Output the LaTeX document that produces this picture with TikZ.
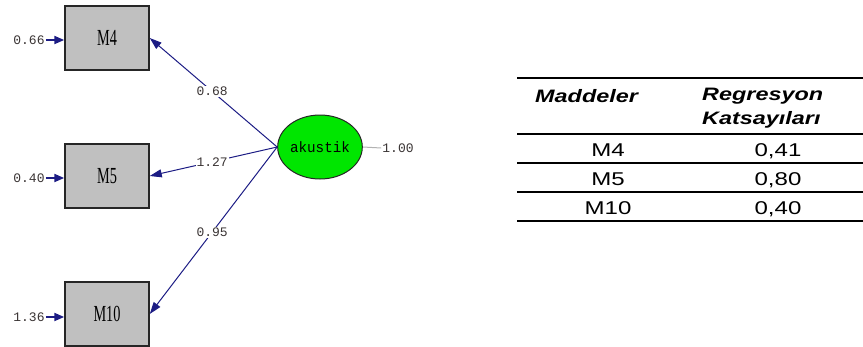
\documentclass[tikz,border=0pt]{standalone}
\usepackage{fontspec}
\usetikzlibrary{arrows.meta,shapes.geometric}
\newfontfamily\tabfont[FakeStretch=1.3]{Liberation Sans}
\newfontfamily\numfont{Liberation Mono}
\newfontfamily\boxfont[FakeStretch=0.62]{Liberation Serif}
\newfontfamily\latfont[FakeStretch=0.95]{Liberation Mono}
\definecolor{pathblue}{HTML}{1C1C84}
\definecolor{boxgray}{HTML}{C0C0C0}
\definecolor{latgreen}{HTML}{00E600}
\definecolor{numtxt}{HTML}{3A3434}
\begin{document}
\begin{tikzpicture}[x=1pt,y=-1pt,
  obs/.style={draw=black!85,line width=1.5pt,fill=boxgray,minimum width=84pt,
    minimum height=64pt,inner sep=0pt,font=\boxfont\fontsize{23}{25}\selectfont},
  lat/.style={ellipse,draw=black!85,line width=1pt,fill=latgreen,minimum width=84pt,
    minimum height=64pt,inner sep=0pt,font=\latfont\fontsize{15}{17}\selectfont},
  lbl/.style={fill=white,inner sep=1pt,text=numtxt,font=\numfont\fontsize{13}{15}\selectfont},
  loading/.style={draw=pathblue,line width=1pt,-{Triangle[length=12pt,width=8pt]}},
  errarrow/.style={draw=pathblue,line width=2pt,-{Triangle[length=10pt,width=8pt]}},
  tabtxt/.style={inner sep=0pt,font=\tabfont\fontsize{18.5}{20}\selectfont},
  tabhead/.style={inner sep=0pt,font=\tabfont\fontsize{18}{20}\selectfont\bfseries\itshape},
  rule/.style={line width=2pt,black}]
\useasboundingbox (0,0) rectangle (863,346);

% observed indicators
\node[obs] (m4) at (107,38) {M4};
\node[obs] (m5) at (107,176) {M5};
\node[obs] (m10) at (107,314) {M10};

% latent factor
\node[lat] (ak) at (320,147) {akustik};

% factor loadings
\draw[loading] (ak.west) -- node[lbl,pos=0.51] {0.68} (m4.east);
\draw[loading] (ak.west) -- node[lbl,pos=0.51] {1.27} (m5.east);
\draw[loading] (ak.west) -- node[lbl,pos=0.51] {0.95} (m10.east);

% factor variance
\node[lbl] (var) at (398,148) {1.00};
\draw[black!30,line width=1pt] (ak.east) -- (var.west);

% error variances
\node[lbl] (e4) at (29,40) {0.66};
\node[lbl] (e5) at (29,178) {0.40};
\node[lbl] (e10) at (29,317) {1.36};
\draw[errarrow] (e4.east) -- (e4.east -| m4.west);
\draw[errarrow] (e5.east) -- (e5.east -| m5.west);
\draw[errarrow] (e10.east) -- (e10.east -| m10.west);

% table of regression coefficients
\draw[rule] (517,78) -- (863,78);
\draw[rule] (517,134) -- (863,134);
\draw[rule] (517,163) -- (863,163);
\draw[rule] (517,192) -- (863,192);
\draw[rule] (517,221) -- (863,221);
\node[tabhead,anchor=base west] (h1) at (535,102) {Maddeler};
\node[tabhead,anchor=base west] (h2) at (702,100) {Regresyon};
\node[tabhead,anchor=base west] (h3) at (702,124) {Katsayıları};
\node[tabtxt,anchor=base] (r1) at (608,156) {M4};
\node[tabtxt,anchor=base] (r2) at (608,185) {M5};
\node[tabtxt,anchor=base] (r3) at (608,214) {M10};
\node[tabtxt,anchor=base] (c1) at (778,156) {0,41};
\node[tabtxt,anchor=base] (c2) at (778,185) {0,80};
\node[tabtxt,anchor=base] (c3) at (778,214) {0,40};
\end{tikzpicture}
\end{document}
